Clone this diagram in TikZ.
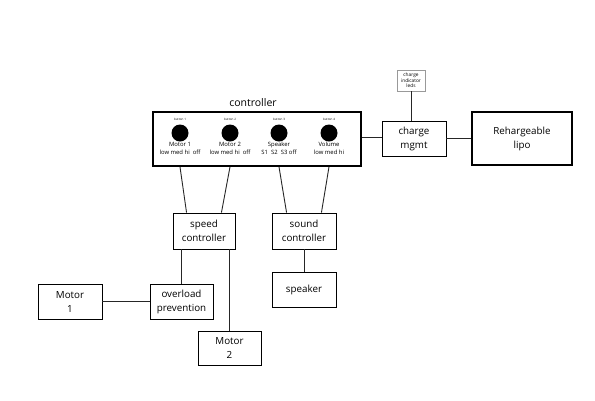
\documentclass[tikz,border=0pt]{standalone}
\usepackage{fontspec}
\setmainfont{Open Sans}
\begin{document}
\begin{tikzpicture}[x=1pt,y=-1pt,
  box/.style={draw=black,line width=0.9pt,rectangle,inner sep=0pt,align=center,font=\fontsize{9.8}{14}\selectfont},
  thickbox/.style={box,line width=1.8pt},
  wire/.style={draw=black!85,line width=0.9pt},
  knob/.style={circle,fill=black,inner sep=0pt,minimum size=17pt},
  tinylbl/.style={inner sep=0pt,font=\fontsize{3}{3}\selectfont},
  knoblbl/.style={inner sep=0pt,align=center,font=\fontsize{5.9}{8.2}\selectfont}]
\useasboundingbox (0,0) rectangle (595,400);
% controller
\node[thickbox,minimum width=208pt,minimum height=54pt] (ctrl) at (257,139) {};
\node[inner sep=0pt,font=\fontsize{10.5}{12}\selectfont] (ctrllbl) at (253,103) {controller};
\foreach \n/\x/\a/\b in {1/180/Motor 1/low med hi\ \ off,2/230/Motor 2/low med hi\ \ off,3/279/Speaker/S1\ \ S2\ \ S3 off,4/329/Volume/low med hi}{
  \node[knob] (k\n) at (\x,133) {};
  \node[tinylbl] (t\n) at (\x,119) {button \n};
  \node[knoblbl] (l\n) at (\x,148.5) {\a\\\b};
}
% charge side
\node[box,minimum width=64pt,minimum height=35pt] (charge) at (414,138.5) {charge\\mgmt};
\node[thickbox,minimum width=100pt,minimum height=53pt] (lipo) at (522,138.5) {Rehargeable\\lipo};
\node[box,draw=black!40,line width=0.6pt,minimum width=28pt,minimum height=21pt,font=\fontsize{4.8}{5.5}\selectfont] (leds) at (411,80.5) {charge\\indicator\\leds};
% lower boxes
\node[box,minimum width=62pt,minimum height=36pt] (speed) at (204,231) {speed\\controller};
\node[box,minimum width=64pt,minimum height=36pt] (sound) at (304,231) {sound\\controller};
\node[box,minimum width=64pt,minimum height=35pt] (speaker) at (304,289.5) {speaker};
\node[box,minimum width=63pt,minimum height=35pt] (overload) at (181.5,301.5) {overload\\prevention};
\node[box,minimum width=64pt,minimum height=35pt] (motor1) at (70,301.5) {Motor\\1};
\node[box,minimum width=63pt,minimum height=34pt] (motor2) at (229.5,348) {Motor\\2};
% connectors
\draw[wire] (ctrl.east |- 0,137) -- (charge.west |- 0,137);
\draw[wire] (charge.east) -- (lipo.west);
\draw[wire] (leds.south) -- (leds.south |- charge.north);
\draw[wire] (ctrl.south -| k1) -- ([xshift=14pt]speed.north west);
\draw[wire] (ctrl.south -| k2) -- ([xshift=-14pt]speed.north east);
\draw[wire] (ctrl.south -| k3) -- ([xshift=15pt]sound.north west);
\draw[wire] (ctrl.south -| k4) -- ([xshift=-15pt]sound.north east);
\draw[wire] (speed.south -| overload.north) -- (overload.north);
\draw[wire] (speed.south -| motor2.north) -- (motor2.north);
\draw[wire] (sound.south) -- (speaker.north);
\draw[wire] (motor1.east) -- (overload.west);
\end{tikzpicture}
\end{document}
